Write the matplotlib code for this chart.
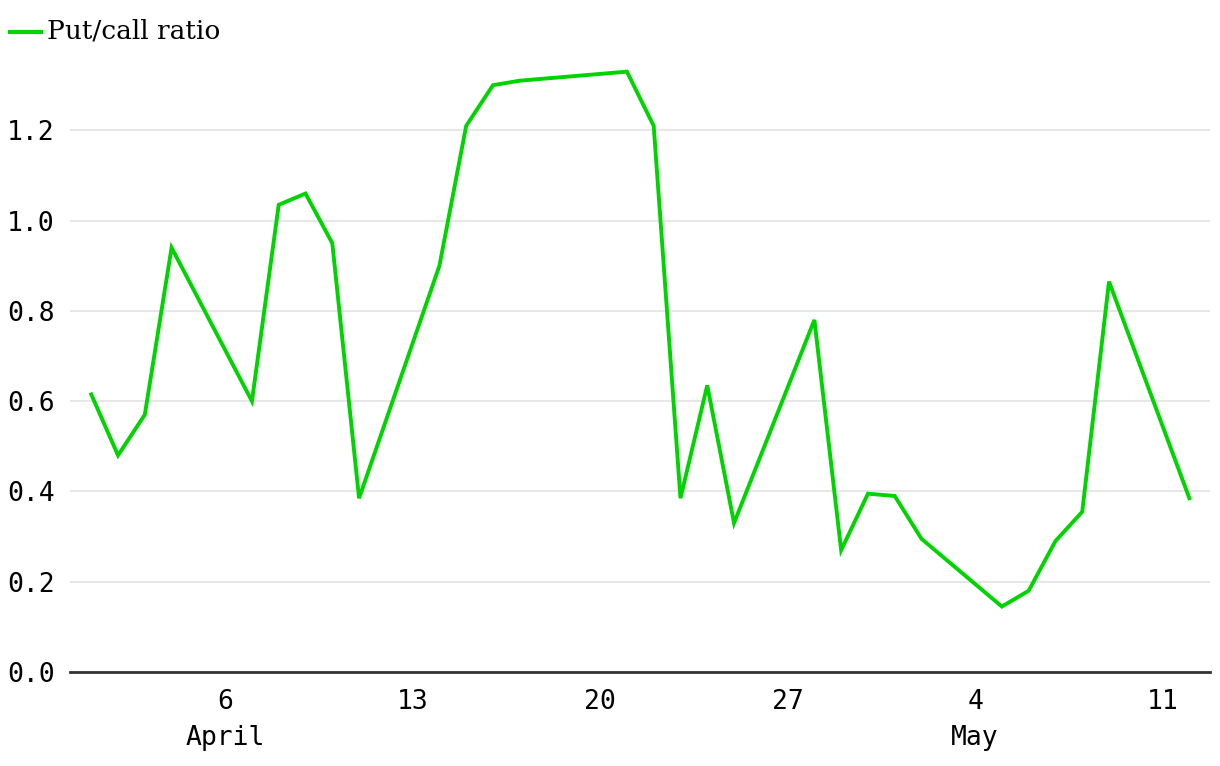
import numpy as np
import matplotlib
matplotlib.use('Agg')
import matplotlib.pyplot as plt
import pandas as pd

# trading days, Apr-May 2025
dates = ['2025-04-01', '2025-04-02', '2025-04-03', '2025-04-04', '2025-04-07',
         '2025-04-08', '2025-04-09', '2025-04-10', '2025-04-11', '2025-04-14',
         '2025-04-15', '2025-04-16', '2025-04-17', '2025-04-21', '2025-04-22',
         '2025-04-23', '2025-04-24', '2025-04-25', '2025-04-28', '2025-04-29',
         '2025-04-30', '2025-05-01', '2025-05-02', '2025-05-05', '2025-05-06',
         '2025-05-07', '2025-05-08', '2025-05-09', '2025-05-12']
put_call = [0.615, 0.48, 0.57, 0.94, 0.60,
            1.035, 1.06, 0.95, 0.385, 0.90,
            1.21, 1.30, 1.31, 1.33, 1.21,
            0.385, 0.635, 0.33, 0.78, 0.27,
            0.395, 0.39, 0.295, 0.145, 0.18,
            0.29, 0.355, 0.865, 0.385]

tick_dates = ['2025-04-06', '2025-04-13', '2025-04-20', '2025-04-27', '2025-05-04', '2025-05-11']
tick_labels = ['6\nApril', '13', '20', '27', '4\nMay', '11']

x = pd.to_datetime(dates)
green = '#00d400'
mono = 'DejaVu Sans Mono'

fig = plt.figure(figsize=(12.2, 7.66), dpi=100)
ax = fig.add_axes([0.0574, 0.1227, 0.9344, 0.825])

ax.plot(x, put_call, color=green, lw=2.8, solid_joinstyle='miter')

ax.set_xlim(pd.Timestamp('2025-03-31 05:00'), pd.Timestamp('2025-05-12 18:30'))
ax.set_ylim(0, 1.4)
ax.set_yticks(np.arange(0, 1.21, 0.2))
ax.set_yticklabels(['%.1f' % v for v in np.arange(0, 1.21, 0.2)])
ax.set_xticks(pd.to_datetime(tick_dates))
ax.set_xticklabels(tick_labels, linespacing=1.5)

ax.grid(axis='y', color='#e5e5e5', lw=1.3)
ax.set_axisbelow(True)
for s in ['top', 'right', 'left']:
    ax.spines[s].set_visible(False)
ax.spines['bottom'].set_color('#333333')
ax.spines['bottom'].set_linewidth(2)
ax.tick_params(length=0, labelsize=19, pad=12)
ax.tick_params(axis='y', pad=11)
for lbl in ax.get_xticklabels() + ax.get_yticklabels():
    lbl.set_fontfamily(mono)

# legend
fig.lines.append(plt.Line2D([10 / 1220, 41 / 1220], [1 - 32 / 766, 1 - 32 / 766],
                            transform=fig.transFigure, color=green, lw=3))
fig.text(47 / 1220, 1 - 31 / 766, 'Put/call ratio', fontsize=19, family='DejaVu Serif',
         va='center', ha='left')

fig.savefig('out.png', dpi=100)
